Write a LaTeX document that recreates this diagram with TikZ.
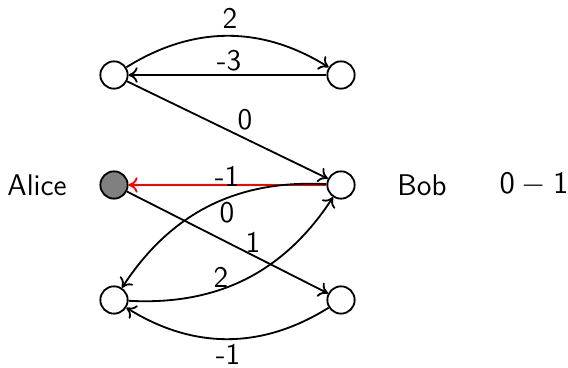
\documentclass[tikz,border=0pt]{standalone}
\usetikzlibrary{arrows.meta}
\begin{document}
\begin{tikzpicture}[x=0.3846pt,y=-0.3846pt,
  every node/.style={font=\fontsize{11.5}{14}\selectfont\sffamily},
  vtx/.style={circle,draw,line width=0.7pt,minimum size=10.5pt,inner sep=0pt},
  conn/.style={-{To[length=3.5pt,width=6pt]},line width=0.7pt},
  lbl/.style={inner sep=0pt}]
\useasboundingbox (0,0) rectangle (568,368);
\node[vtx] (tl) at (114,75) {};
\node[vtx] (tr) at (341,75) {};
\node[vtx,fill=gray] (alice) at (114,185) {};
\node[vtx] (bob) at (341,185) {};
\node[vtx] (bl) at (114,300) {};
\node[vtx] (br) at (341,300) {};
\node (aliceL) at (37,185) {Alice};
\node (bobL) at (422,185) {Bob};
\node (score) at (534,185) {$\mathsf{0}-\mathsf{1}$};
\draw[conn] (tl) to[bend left=32] (tr);
\draw[conn] (tr) -- (tl);
\draw[conn] (tl) -- (bob);
\draw[conn,red] (bob) -- (alice);
\draw[conn] (bob) to[bend right=30] (bl);
\draw[conn] (bl) to[bend right=30] (bob);
\draw[conn] (alice) -- (br);
\draw[conn] (br) to[bend left=32] (bl);
\node[lbl] (l1) at (230,18) {2};
\node[lbl] (l2) at (229,61) {-3};
\node[lbl] (l3) at (245,120) {0};
\node[lbl] (l4) at (227,176) {-1};
\node[lbl] (l5) at (227,213) {0};
\node[lbl] (l6) at (253,242) {1};
\node[lbl] (l7) at (221,277) {2};
\node[lbl] (l8) at (228,354) {-1};
\end{tikzpicture}
\end{document}
